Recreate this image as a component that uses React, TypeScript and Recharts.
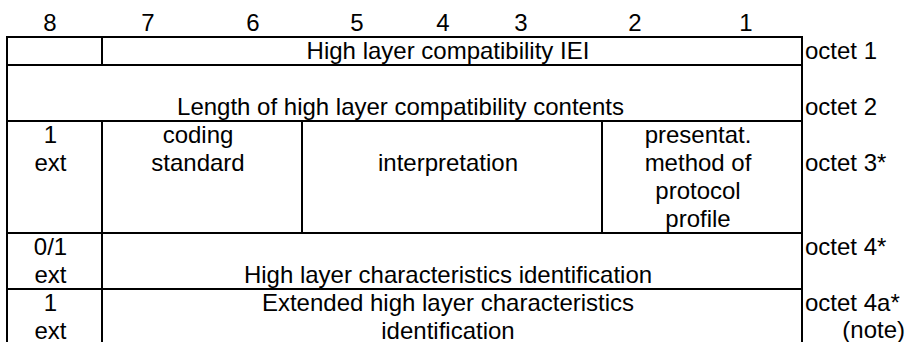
import React from 'react';
import { ComposedChart, XAxis, YAxis, ReferenceArea } from 'recharts';

// bit numbers across the top
const bits = ['8', '7', '6', '5', '4', '3', '2', '1'];

// height of each octet row, counted in text lines
const rowLines = [1, 2, 4, 2, 2];

// cells per octet row: [from bit, to bit, text lines]
const octet1Cells: [number, number, string[]][] = [
  [8, 8, []],
  [7, 1, ['High layer compatibility IEI']],
];
const octet2Cells: [number, number, string[]][] = [
  [8, 1, ['', 'Length of high layer compatibility contents']],
];
const octet3Cells: [number, number, string[]][] = [
  [8, 8, ['1', 'ext']],
  [7, 6, ['coding', 'standard']],
  [5, 3, ['', 'interpretation']],
  [2, 1, ['presentat.', 'method of', 'protocol', 'profile']],
];
const octet4Cells: [number, number, string[]][] = [
  [8, 8, ['0/1', 'ext']],
  [7, 1, ['', 'High layer characteristics identification']],
];
const octet4aCells: [number, number, string[]][] = [
  [8, 8, ['1', 'ext']],
  [7, 1, ['Extended high layer characteristics', 'identification']],
];
const rows = [octet1Cells, octet2Cells, octet3Cells, octet4Cells, octet4aCells];

// labels to the right of the table
const octetLabels = [['octet 1'], ['', 'octet 2'], ['', 'octet 3*'], ['octet 4*'], ['octet 4a*']];
const octetNotes = ['', '', '', '', '(note)'];

const FONT = '"Liberation Sans", Arial, Helvetica, sans-serif';
const FONT_SIZE = 24;
const BASELINE = 22;
const X_MAX = 9.04;
const Y_MAX = 305 / 28;
const TABLE_LEFT = 0.05;
// the header digits sit on tab stops, not exactly on column centres
const HEADER_NUDGE = [-2, -4, 1, 5, -9, -31, -17, -6];

const bitLeft = (b: number) => (b === 8 ? TABLE_LEFT : 8 - b);
const bitRight = (b: number) => 9 - b;

const HeaderTick = ({ x, y, payload, index }: any) => (
  <text
    x={x + HEADER_NUDGE[index]}
    y={y - 6}
    textAnchor="middle"
    fontFamily={FONT}
    fontSize={FONT_SIZE}
    fill="#000"
  >
    {bits[Math.floor(payload.value)]}
  </text>
);

const cellShape = (lines: string[], lineCount: number) => (p: any) => {
  const { x, y, width, height } = p;
  const lh = height / lineCount;
  return (
    <g>
      <rect x={x} y={y} width={width} height={height} fill="none" stroke="#000" strokeWidth={2} />
      {lines.map((t, i) =>
        t ? (
          <text
            key={i}
            x={x + width / 2 - 4}
            y={y + i * lh + BASELINE}
            textAnchor="middle"
            fontFamily={FONT}
            fontSize={FONT_SIZE}
            fill="#000"
          >
            {t}
          </text>
        ) : null
      )}
    </g>
  );
};

const octetShape = (lines: string[], note: string, lineCount: number) => (p: any) => {
  const { x, y, width, height } = p;
  const lh = height / lineCount;
  return (
    <g fontFamily={FONT} fontSize={FONT_SIZE} fill="#000">
      {lines.map((t, i) =>
        t ? (
          <text key={i} x={x + 3} y={y + i * lh + BASELINE}>
            {t}
          </text>
        ) : null
      )}
      {note ? (
        <text x={x + width - 1} y={y + lh + BASELINE - 1} textAnchor="end">
          {note}
        </text>
      ) : null}
    </g>
  );
};

export default function App() {
  let top = 0;
  const rowTops = rowLines.map((n) => {
    const t = top;
    top += n;
    return t;
  });

  return (
    <div style={{ position: 'absolute', left: 0, top: 0, width: 906, height: 342, background: '#fff' }}>
      <ComposedChart width={906} height={342} data={[]} margin={{ top: 9, right: 0, bottom: 0, left: 2 }}>
        <XAxis
          type="number"
          orientation="top"
          dataKey="x"
          domain={[0, X_MAX]}
          allowDataOverflow
          ticks={bits.map((_, i) => i + 0.5)}
          height={28}
          axisLine={false}
          tickLine={false}
          tickSize={0}
          tickMargin={0}
          tick={<HeaderTick />}
          interval={0}
        />
        <YAxis type="number" dataKey="y" domain={[0, Y_MAX]} allowDataOverflow reversed hide />
        {rows.map((cells, r) =>
          cells.map(([from, to, lines], c) => (
            <ReferenceArea
              key={`c${r}-${c}`}
              x1={bitLeft(from)}
              x2={bitRight(to)}
              y1={rowTops[r]}
              y2={rowTops[r] + rowLines[r]}
              ifOverflow="visible"
              shape={cellShape(lines, rowLines[r])}
            />
          ))
        )}
        {octetLabels.map((lines, r) => (
          <ReferenceArea
            key={`o${r}`}
            x1={8}
            x2={X_MAX}
            y1={rowTops[r]}
            y2={rowTops[r] + rowLines[r]}
            ifOverflow="visible"
            shape={octetShape(lines, octetNotes[r], rowLines[r])}
          />
        ))}
      </ComposedChart>
    </div>
  );
}
